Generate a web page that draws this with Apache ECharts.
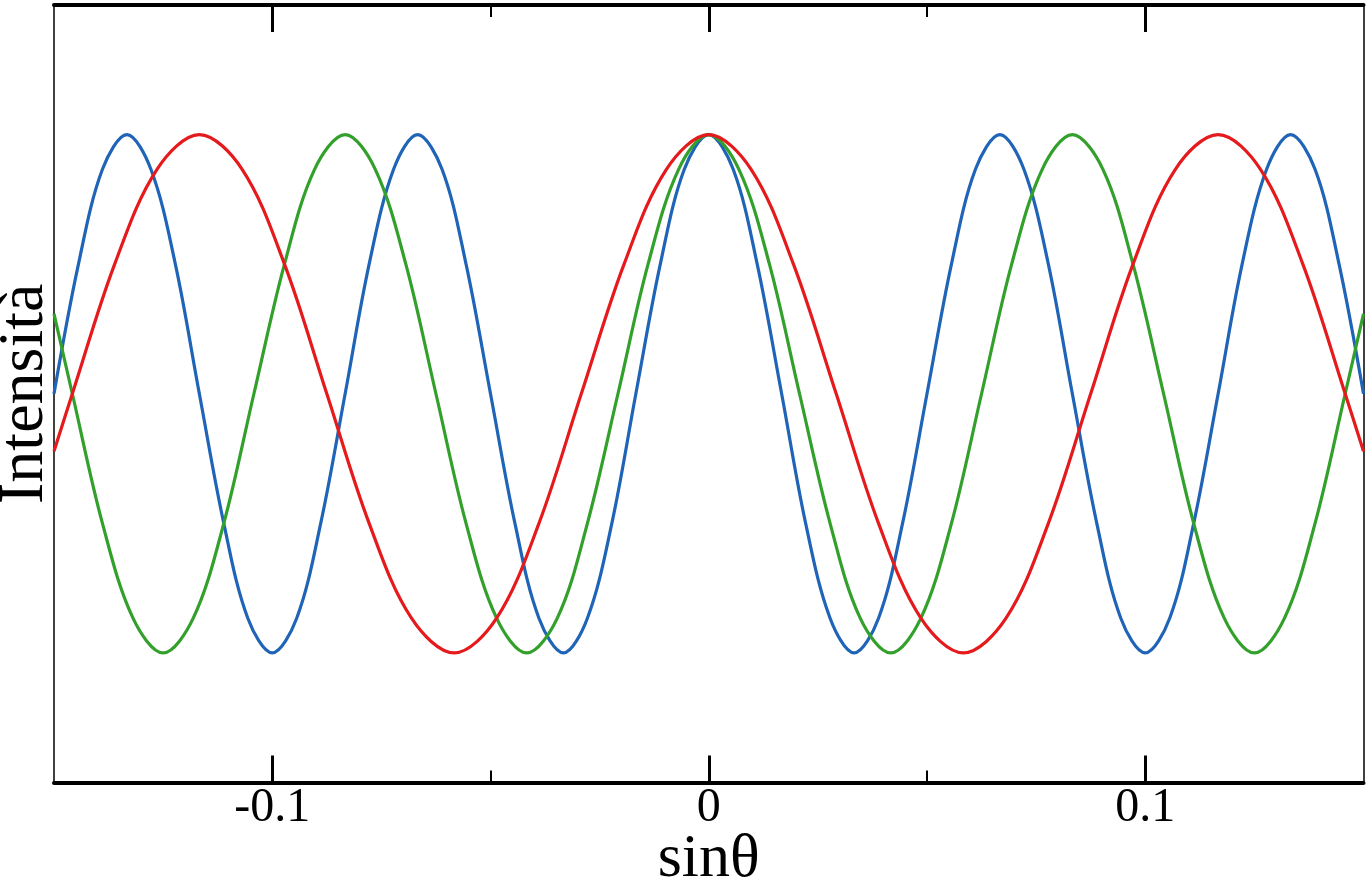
<!DOCTYPE html>
<html>
<head>
<meta charset="utf-8">
<script src="https://cdn.jsdelivr.net/npm/echarts@6/dist/echarts.min.js"></script>
<style>
html,body{margin:0;padding:0;background:#fff;}
#chart{width:1369px;height:882px;}
</style>
</head>
<body>
<div id="chart"></div>
<script>
// sinθ positions and intensities
const blueX = [-0.15,-0.1444,-0.1389,-0.1333,-0.1278,-0.1222,-0.1167,-0.1111,-0.1056,-0.1,-0.0944,-0.0889,-0.0833,-0.0778,-0.0722,-0.0667,-0.0611,-0.0556,-0.05,-0.0444,-0.0389,-0.0333,-0.0278,-0.0222,-0.0167,-0.0111,-0.0056,0,
  0.0056,0.0111,0.0167,0.0222,0.0278,0.0333,0.0389,0.0444,0.05,0.0556,0.0611,0.0667,0.0722,0.0778,0.0833,0.0889,0.0944,0.1,0.1056,0.1111,0.1167,0.1222,0.1278,0.1333,0.1389,0.1444,0.15];
const blueY = [0.5,0.75,0.933,1,0.933,0.75,0.5,0.25,0.067,0,0.067,0.25,0.5,0.75,0.933,1,0.933,0.75,0.5,0.25,0.067,0,0.067,0.25,0.5,0.75,0.933,1,
  0.933,0.75,0.5,0.25,0.067,0,0.067,0.25,0.5,0.75,0.933,1,0.933,0.75,0.5,0.25,0.067,0,0.067,0.25,0.5,0.75,0.933,1,0.933,0.75,0.5];

const greenX = [-0.15,-0.1458,-0.1389,-0.1319,-0.125,-0.1181,-0.1111,-0.1042,-0.0972,-0.0903,-0.0833,-0.0764,-0.0694,-0.0625,-0.0556,-0.0486,-0.0417,-0.0347,-0.0278,-0.0208,-0.0139,-0.0069,0,
  0.0069,0.0139,0.0208,0.0278,0.0347,0.0417,0.0486,0.0556,0.0625,0.0694,0.0764,0.0833,0.0903,0.0972,0.1042,0.1111,0.1181,0.125,0.1319,0.1389,0.1458,0.15];
const greenY = [0.654,0.5,0.25,0.067,0,0.067,0.25,0.5,0.75,0.933,1,0.933,0.75,0.5,0.25,0.067,0,0.067,0.25,0.5,0.75,0.933,1,
  0.933,0.75,0.5,0.25,0.067,0,0.067,0.25,0.5,0.75,0.933,1,0.933,0.75,0.5,0.25,0.067,0,0.067,0.25,0.5,0.654];

const redX = [-0.15,-0.1458,-0.1361,-0.1264,-0.1167,-0.1069,-0.0972,-0.0875,-0.0778,-0.0681,-0.0583,-0.0486,-0.0389,-0.0292,-0.0194,-0.0097,0,
  0.0097,0.0194,0.0292,0.0389,0.0486,0.0583,0.0681,0.0778,0.0875,0.0972,0.1069,0.1167,0.1264,0.1361,0.1458,0.15];
const redY = [0.389,0.5,0.75,0.933,1,0.933,0.75,0.5,0.25,0.067,0,0.067,0.25,0.5,0.75,0.933,1,
  0.933,0.75,0.5,0.25,0.067,0,0.067,0.25,0.5,0.75,0.933,1,0.933,0.75,0.5,0.389];

const majorTicks = [-0.1, 0, 0.1];
const minorTicks = [-0.05, 0.05];
const tickLabels = ['-0.1', '0', '0.1'];
const xName = 'sinθ';
const yName = 'Intensità';

const zip = (xs, ys) => xs.map((x, i) => [x, ys[i]]);
const serif = 'Liberation Serif, Times New Roman, serif';

function xAx(pos, ticks, len, w, labels, lineW, extra) {
  return Object.assign({
    type: 'value', position: pos, min: -0.15, max: 0.15,
    axisLine: { show: lineW > 0, onZero: false, lineStyle: { color: '#000', width: lineW || 1 } },
    axisTick: { show: true, inside: true, length: len, customValues: ticks, lineStyle: { color: '#000', width: w } },
    axisLabel: labels ? {
      show: true, customValues: majorTicks, margin: 2,
      formatter: v => tickLabels[majorTicks.indexOf(Math.round(v * 100) / 100)] ?? '',
      color: '#000', fontFamily: serif, fontSize: 48
    } : { show: false },
    splitLine: { show: false }
  }, extra || {});
}

const chart = echarts.init(document.getElementById('chart'));
chart.setOption({
  animation: false,
  backgroundColor: '#fff',
  grid: { left: 54, right: 5.5, top: 5, bottom: 99.5, containLabel: false, outerBoundsMode: 'none' },
  xAxis: [
    xAx('bottom', majorTicks, 27, 3, true, 4, { name: xName, nameLocation: 'middle', nameGap: 46,
      nameMoveOverlap: false,
      nameTextStyle: { color: '#000', fontFamily: serif, fontSize: 62 } }),
    xAx('bottom', minorTicks, 12, 2, false, 0),
    xAx('top', majorTicks, 27, 3, false, 4),
    xAx('top', minorTicks, 12, 2, false, 0)
  ],
  yAxis: [
    { type: 'value', position: 'left', min: -0.25, max: 1.25,
      axisLine: { show: true, onZero: false, lineStyle: { color: '#000', width: 1.5 } },
      axisTick: { show: false }, axisLabel: { show: false }, splitLine: { show: false },
      name: yName, nameLocation: 'middle', nameGap: -3, nameMoveOverlap: false,
      nameTextStyle: { color: '#000', fontFamily: serif, fontSize: 64 } },
    { type: 'value', position: 'right', min: -0.25, max: 1.25,
      axisLine: { show: true, onZero: false, lineStyle: { color: '#000', width: 1.5 } },
      axisTick: { show: false }, axisLabel: { show: false }, splitLine: { show: false } }
  ],
  series: [
    { name: 'blu', type: 'line', data: zip(blueX, blueY), smooth: 0.35, showSymbol: false,
      lineStyle: { color: '#1f64b6', width: 3.2 }, itemStyle: { color: '#1f64b6' } },
    { name: 'verde', type: 'line', data: zip(greenX, greenY), smooth: 0.35, showSymbol: false,
      lineStyle: { color: '#33a02c', width: 3.2 }, itemStyle: { color: '#33a02c' } },
    { name: 'rosso', type: 'line', data: zip(redX, redY), smooth: 0.35, showSymbol: false,
      lineStyle: { color: '#e41a1c', width: 3.2 }, itemStyle: { color: '#e41a1c' } }
  ]
});
</script>
</body>
</html>
